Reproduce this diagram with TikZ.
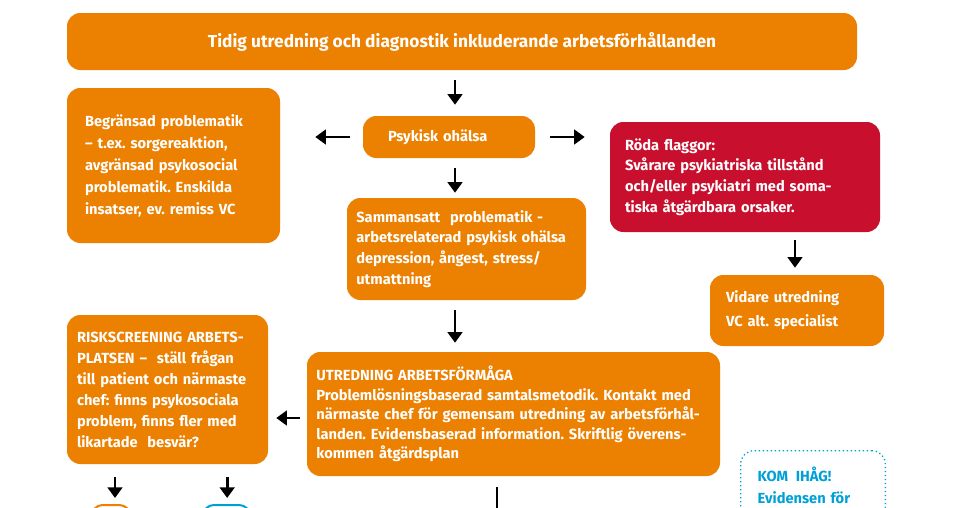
\documentclass[tikz,border=0pt]{standalone}
\usepackage{fontspec}
\setmainfont{Fira Sans}
\frenchspacing
\usetikzlibrary{shapes.geometric, arrows.meta, positioning}
\definecolor{vardorange}{RGB}{236, 128, 0}
\definecolor{vardred}{RGB}{200, 16, 46}
\definecolor{vardblue}{RGB}{0, 160, 215}

\begin{document}
\begin{tikzpicture}[x=0.75pt, y=-0.75pt,
        box/.style={rounded corners=10pt, fill=vardorange, text=white, align=left, inner ysep=0pt,
            font=\bfseries\fontsize{11}{15.5}\selectfont},
        pil/.style={line width=2pt, -{Triangle[width=11pt, length=8pt]}}]
    \path[use as bounding box, clip] (0,0) rectangle (964,507);

    \node[box, align=center, minimum width=592.5pt, minimum height=42.75pt,
        font=\bfseries\fontsize{13}{15}\selectfont] (tidig) at (462,41.5)
        {Tidig utredning och diagnostik inkluderande arbetsförhållanden};
    \node[box, minimum height=31.5pt, inner xsep=18.75pt, text width=91.5pt] (psykisk) at (449,137)
        {Psykisk ohälsa};
    \node[box, minimum height=116.25pt, inner xsep=13.5pt, text width=132.75pt,
        font=\bfseries\fontsize{11}{16.5}\selectfont] (begransad) at (173.5,165.5)
        {Begränsad problematik\\ – t.ex. sorgereaktion,\\ avgränsad psykosocial\\ problematik. Enskilda\\ insatser, ev. remiss VC};
    \node[box, fill=vardred, minimum height=82.5pt, inner xsep=11.25pt, text width=180pt] (roda) at (745,177)
        {Röda flaggor:\\ Svårare psykiatriska tillstånd\\ och/eller psykiatri med soma-\\ tiska åtgärdbara orsaker.};
    \node[box, minimum height=53.25pt, inner xsep=12pt, text width=106.5pt,
        font=\bfseries\fontsize{11}{18}\selectfont] (vidare) at (797,310.5)
        {Vidare utredning\\ VC alt. specialist};
    \node[box, minimum height=76.5pt, inner xsep=7pt, text width=165.25pt] (samman) at (466.5,249)
        {Sammansatt~ problematik -\\ arbetsrelaterad psykisk ohälsa\\ depression, ångest, stress/\\ utmattning};
    \node[box, minimum height=93pt, inner xsep=7pt, text width=295.75pt,
        font=\bfseries\fontsize{11}{14.6}\selectfont] (utredning) at (513.5,414)
        {UTREDNING ARBETSFÖRMÅGA\\ Problemlösningsbaserad samtalsmetodik. Kontakt med\\ närmaste chef för gemensam utredning av arbetsförhål-\\ landen. Evidensbaserad information. Skriftlig överens-\\ kommen åtgärdsplan};
    \node[box, minimum height=111.75pt, inner xsep=7.5pt, text width=135.75pt,
        font=\bfseries\fontsize{11}{15.75}\selectfont] (risk) at (167.5,389.5)
        {RISKSCREENING ARBETS-\\ PLATSEN –~ ställ frågan\\ till patient och närmaste\\ chef: finns psykosociala\\ problem, finns fler med\\ likartade~ besvär?};
    \node[draw=vardblue, dotted, line width=1pt, rounded corners=10pt, text=vardblue, align=left,
        anchor=north west, inner xsep=12.75pt, inner ysep=12pt, text width=83pt,
        font=\bfseries\fontsize{11}{17}\selectfont] (komihag) at (740,450)
        {KOM\hspace{2pt} IHÅG!\\ Evidensen för};
    \node[draw=vardorange, line width=1.5pt, rounded corners=8pt, anchor=north,
        minimum width=28.5pt, minimum height=30pt] (ruta1) at (111,504) {};
    \node[draw=vardblue, line width=1.5pt, rounded corners=8pt, anchor=north,
        minimum width=35pt, minimum height=30pt] (ruta2) at (226.5,504) {};
    \coordinate (ned) at (497,540);

    \draw[pil, shorten <=7.5pt, shorten >=8.25pt] ([xshift=4.5pt]psykisk.north |- tidig.south) -- ([xshift=4.5pt]psykisk.north);
    \draw[pil, shorten <=9.75pt, shorten >=26.25pt] (psykisk.west) -- (begransad.east |- psykisk.west);
    \draw[pil, shorten <=11.25pt, shorten >=18.75pt] (psykisk.east) -- (roda.west |- psykisk.east);
    \draw[pil, shorten <=7.5pt, shorten >=3.75pt] ([xshift=4.5pt]psykisk.south) -- ([xshift=4.5pt]psykisk.south |- samman.north);
    \draw[pil, shorten <=6pt, shorten >=5.25pt] ([xshift=-1.5pt]vidare.north |- roda.south) -- ([xshift=-1.5pt]vidare.north);
    \draw[pil, shorten <=7.5pt, shorten >=6.75pt] ([xshift=4.5pt]psykisk.south |- samman.south) -- ([xshift=4.5pt]psykisk.south |- utredning.north);
    \draw[pil, shorten <=5.25pt, shorten >=6pt] ([yshift=-3pt]utredning.west) -- ([yshift=-3pt]utredning.west -| risk.east);
    \draw[pil, shorten <=9.75pt, shorten >=4.5pt] ([xshift=3pt]ruta1.north |- risk.south) -- ([xshift=3pt]ruta1.north);
    \draw[pil, shorten <=9.75pt, shorten >=4.5pt] ([xshift=0.5pt]ruta2.north |- risk.south) -- ([xshift=0.5pt]ruta2.north);
    \draw[pil, shorten <=8.25pt] (ned |- utredning.south) -- (ned);
\end{tikzpicture}
\end{document}
